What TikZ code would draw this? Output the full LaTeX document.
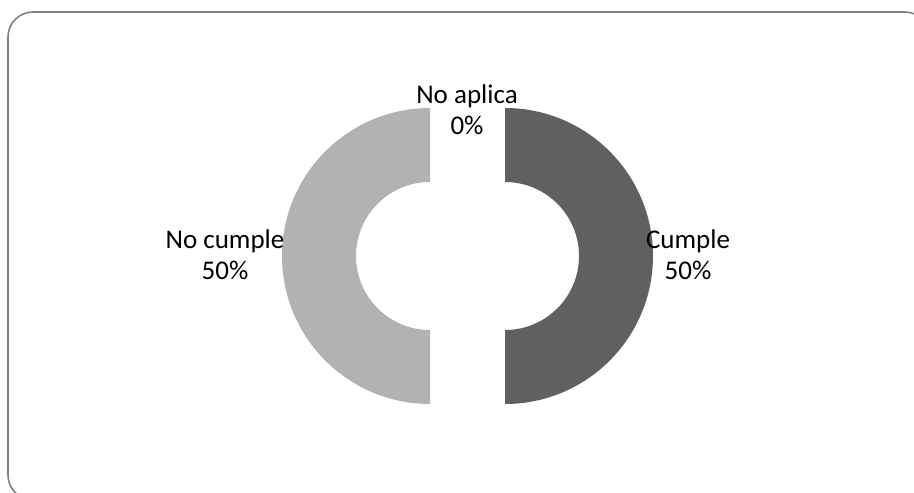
\documentclass[tikz,border=0pt]{standalone}
\usepackage{fontspec}
\setmainfont{Carlito}
\definecolor{cumplegray}{HTML}{606060}
\definecolor{nocumplegray}{HTML}{B2B2B2}
\definecolor{framegray}{HTML}{808080}
\tikzset{
  slicelabel/.style={align=center, inner sep=0pt, font=\fontsize{27}{31}\selectfont}
}
\begin{document}
\begin{tikzpicture}[x=1pt,y=-1pt]
\useasboundingbox (0,0) rectangle (914,493);
\clip (0,0) rectangle (914,493);
\draw [framegray, line width=1.6pt, rounded corners=25pt] (8,12) rectangle (930,500);

% donut halves
\fill [nocumplegray] (430,108) arc [start angle=270, end angle=90, radius=148]
  -- (430,330) arc [start angle=90, end angle=270, radius=74] -- cycle;
\fill [cumplegray] (505,108) arc [start angle=270, end angle=450, radius=148]
  -- (505,330) arc [start angle=90, end angle=-90, radius=74] -- cycle;

\node [slicelabel] (noaplica) at (467,110) {No aplica\\0\%};
\node [slicelabel] (nocumple) at (225,255) {No cumple\\50\%};
\node [slicelabel] (cumple) at (688,255) {Cumple\\50\%};
\end{tikzpicture}
\end{document}
